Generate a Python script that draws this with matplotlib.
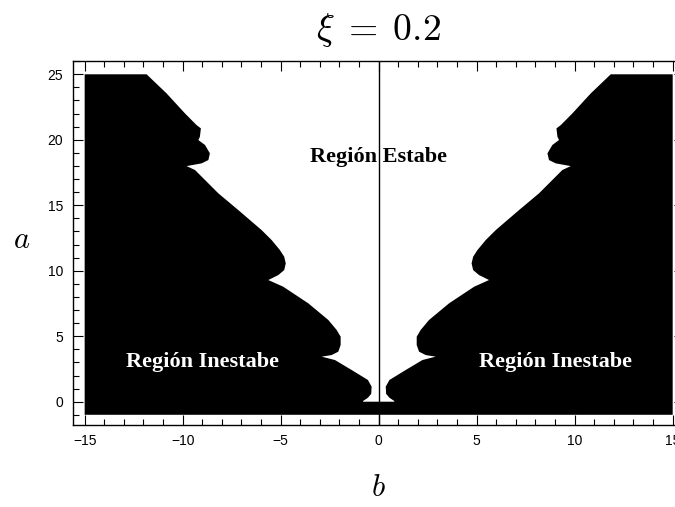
import matplotlib.pyplot as plt
from matplotlib.ticker import MultipleLocator

# plotted domain of the stability chart
b_range = [-15, 15]
a_range = [-1, 25]

# left edge of the stable region, traced top to bottom (b, a)
b_left = [-11.84, -10.82, -9.88, -9.29, -9.07, -9.12, -9.20, -8.86, -8.61, -8.69,
          -9.03, -9.80, -9.37, -8.18, -7.16, -5.97, -5.46, -5.04, -4.82, -4.74,
          -4.82, -5.12, -5.63, -4.87, -3.59, -2.57, -2.14, -1.94, -1.94, -2.06,
          -2.40, -2.91, -2.23, -1.38, -0.55, -0.36, -0.38, -0.55, -0.80, -0.80]
a_left = [25.0, 23.54, 22.01, 21.12, 20.87, 20.23, 19.98, 19.60, 18.96, 18.45,
          18.20, 17.99, 17.69, 15.91, 14.63, 13.10, 12.34, 11.58, 11.07, 10.56,
          10.05, 9.67, 9.29, 8.78, 7.51, 6.24, 5.47, 4.96, 4.33, 3.82,
          3.56, 3.44, 3.18, 2.42, 1.66, 1.15, 0.60, 0.30, 0.05, 0.0]

xi = 0.2

# one outline for the unstable region: left edge down, mirrored right edge up,
# then round the bottom strip back to the start
unstable_b = ([b_range[0]] + b_left + [-b for b in reversed(b_left)]
              + [b_range[1], b_range[1], b_range[0]])
unstable_a = ([a_range[1]] + a_left + list(reversed(a_left))
              + [a_range[1], a_range[0], a_range[0]])

plt.rcParams['mathtext.fontset'] = 'cm'

fig = plt.figure(figsize=(6.75, 5.07), dpi=100)
ax = fig.add_axes([0.108, 0.1625, 0.906, 0.7168])

ax.fill(unstable_b, unstable_a, color='black', lw=0, zorder=1)
ax.axvline(0, color='black', lw=1.0, zorder=3)

ax.set_xlim(-15.6, 15.6)
ax.set_ylim(-1.75, 26.0)

ax.xaxis.set_major_locator(MultipleLocator(5))
ax.xaxis.set_minor_locator(MultipleLocator(1))
ax.yaxis.set_major_locator(MultipleLocator(5))
ax.yaxis.set_minor_locator(MultipleLocator(1))
ax.tick_params(which='both', direction='in', top=True, right=True, width=0.8,
               labelsize=10, labelfontfamily='Liberation Sans')
ax.tick_params(which='major', length=7, pad=7)
ax.tick_params(which='minor', length=4)
for s in ax.spines.values():
    s.set_linewidth(1.0)

ax.text(0, 18.7, 'Región Estabe', ha='center', va='center', fontsize=16,
        family='Liberation Serif', weight='bold', color='black', zorder=4)
for b_pos in (-9, 9):
    ax.text(b_pos, 3.0, 'Región Inestabe', ha='center', va='center', fontsize=16,
            family='Liberation Serif', weight='bold', color='white', zorder=4)

fig.text(0.561, 1 - 30 / 507, r'$\xi\;=\;%.1f$' % xi, ha='center', va='center', fontsize=27)
fig.text(0.561, 1 - 487 / 507, r'$b$', ha='center', va='center', fontsize=22)
fig.text(22 / 675, 1 - 240 / 507, r'$a$', ha='center', va='center', fontsize=22)

fig.savefig('out.png', dpi=100)
plt.close(fig)
